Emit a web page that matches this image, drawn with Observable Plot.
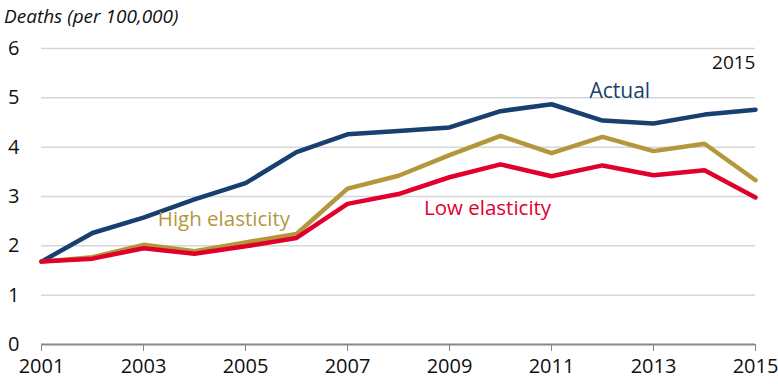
<!DOCTYPE html>
<html>
<head>
<meta charset="utf-8">
<script src="https://cdn.jsdelivr.net/npm/d3@7"></script>
<script src="https://cdn.jsdelivr.net/npm/@observablehq/plot@0.6"></script>
<style>
  body { margin: 0; background: #fff; font-family: "Open Sans", sans-serif; }
  #title { height: 28px; font-style: italic; font-size: 19px; padding-left: 4px; line-height: 32px; color: #111; }
</style>
</head>
<body>
<div id="title">Deaths (per 100,000)</div>
<div id="chart"></div>
<script>
const years = [2001,2002,2003,2004,2005,2006,2007,2008,2009,2010,2011,2012,2013,2014,2015];
const actual = [1.68,2.26,2.57,2.94,3.27,3.90,4.26,4.33,4.40,4.73,4.87,4.54,4.48,4.66,4.76];
const highElasticity = [1.68,1.77,2.02,1.89,2.07,2.24,3.16,3.42,3.84,4.23,3.88,4.21,3.92,4.07,3.33];
const lowElasticity = [1.68,1.74,1.95,1.84,1.99,2.16,2.85,3.05,3.39,3.65,3.41,3.63,3.43,3.53,2.98];
const seriesNames = ["Actual", "High elasticity", "Low elasticity"];
const seriesColors = ["#173f70", "#b3973a", "#e1002c"];
const yTicks = [0,1,2,3,4,5,6];
const xTicks = [2001,2003,2005,2007,2009,2011,2013,2015];

const rows = [];
[actual, highElasticity, lowElasticity].forEach((vals, i) => {
  years.forEach((yr, j) => rows.push({series: seriesNames[i], year: yr, value: vals[j]}));
});
const centeredLabels = [
  {series: "Actual", year: 2012.34, value: 5.13}
];
const startLabels = [
  {series: "High elasticity", year: 2003.28, value: 2.54},
  {series: "Low elasticity", year: 2008.5, value: 2.76}
];

const font = '"Open Sans", sans-serif';
const chart = Plot.plot({
  width: 778,
  height: 356,
  marginTop: 20,
  marginBottom: 40,
  marginLeft: 41,
  marginRight: 23,
  style: {fontFamily: font, fontSize: "20px", color: "#111"},
  x: {domain: [2001, 2015], label: null},
  y: {domain: [0, 6], label: null},
  color: {domain: seriesNames, range: seriesColors},
  marks: [
    Plot.gridY(yTicks.filter(d => d > 0), {stroke: "#d6d6d6", strokeOpacity: 1, strokeWidth: 1.5}),
    Plot.axisY({ticks: yTicks, tickFormat: d => String(d), tickSize: 0, tickPadding: 22, textAnchor: "end", fontSize: 20, label: null}),
    Plot.axisX({ticks: xTicks, tickFormat: d => String(d), tickSize: 7, tickPadding: 7, fontSize: 20, stroke: "#888", label: null}),
    Plot.ruleY([0], {stroke: "#888", strokeWidth: 2}),
    Plot.line(rows, {x: "year", y: "value", z: "series", stroke: "series", strokeWidth: 4.5, strokeLinejoin: "miter"}),
    Plot.text(centeredLabels, {x: "year", y: "value", text: "series", fill: "series", textAnchor: "middle", fontSize: 21}),
    Plot.text(startLabels, {x: "year", y: "value", text: "series", fill: "series", textAnchor: "start", fontSize: 20.5}),
    Plot.text(["2015"], {frameAnchor: "top-right", dy: 7, fontSize: 19, fill: "#111"})
  ]
});
document.getElementById("chart").appendChild(chart);
</script>
</body>
</html>
